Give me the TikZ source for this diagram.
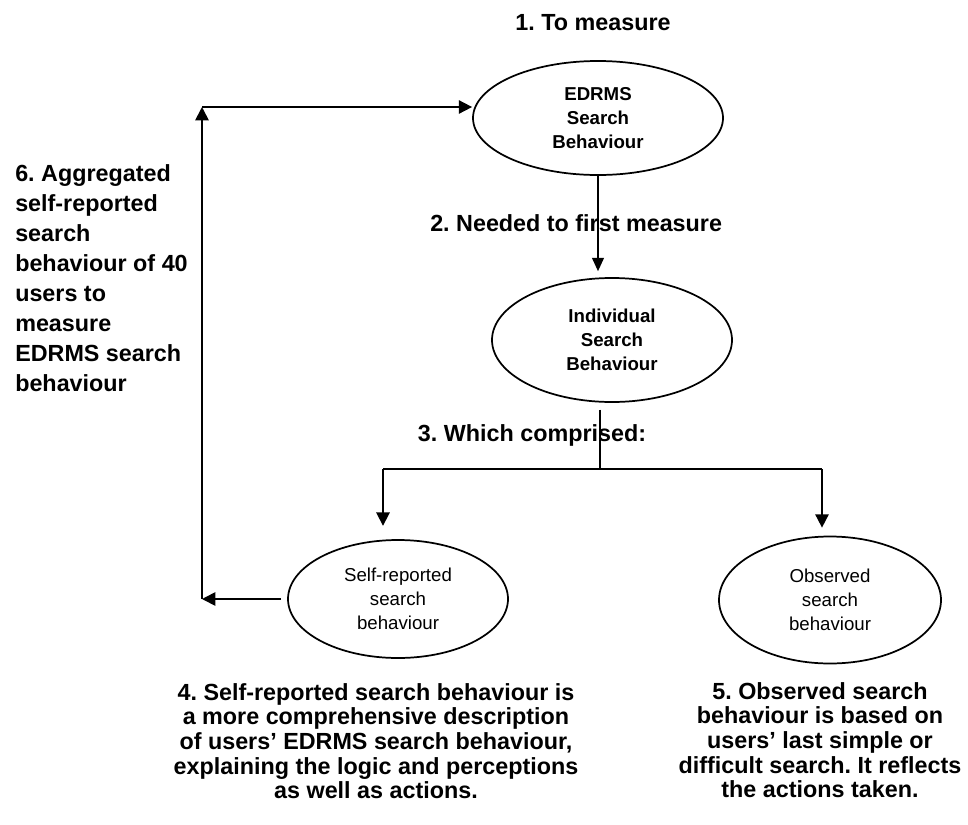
\documentclass[tikz,border=0pt]{standalone}
\usepackage{fontspec}
\setmainfont{Liberation Sans}
\usetikzlibrary{shapes, arrows.meta, positioning, calc}
\frenchspacing

\begin{document}
\begin{tikzpicture}[x=0.75pt, y=-0.75pt,
    oval/.style={ellipse, draw, line width=1.3pt, inner sep=0pt, align=center, font=\fontsize{14}{18}\selectfont},
    boldoval/.style={oval, font=\bfseries\fontsize{14}{18}\selectfont},
    lbl/.style={inner sep=0pt, font=\bfseries\fontsize{17.5}{18.5}\selectfont},
    arr/.style={line width=1.3pt, -{Triangle[length=10pt, width=10pt]}},
    thinarr/.style={line width=0.9pt, -{Triangle[length=10pt, width=9pt]}}]
    \useasboundingbox (0,0) rectangle (968,825);

    % Ovals
    \node[boldoval, minimum width=187.5pt, minimum height=85.5pt] (edrms) at (598,118) {EDRMS\\Search\\Behaviour};
    \node[boldoval, minimum width=180pt, minimum height=93pt] (indiv) at (612,340) {Individual\\Search\\Behaviour};
    \node[oval, minimum width=165pt, minimum height=88.5pt] (selfrep) at (398,599) {Self-reported\\search\\behaviour};
    \node[oval, minimum width=166.5pt, minimum height=95.25pt] (observ) at (830,600) {Observed\\search\\behaviour};

    % Corner points
    \coordinate (split) at (600,469);
    \coordinate (lbranch) at (383,469);
    \coordinate (rbranch) at (822,469);
    \coordinate (fbcorner) at (202,107);

    % Arrows down
    \draw[thinarr, shorten >=4.5pt] (edrms.south) -- (edrms.south |- indiv.north);
    \draw[line width=0.9pt, shorten <=5pt] (split |- indiv.south) -- (split);
    \draw[line width=1.3pt] (lbranch) -- (rbranch);
    \draw[arr, shorten >=10pt] (lbranch) -- (lbranch |- selfrep.north);
    \draw[arr, shorten >=6pt] (rbranch) -- (rbranch |- observ.north);

    % Feedback loop
    \draw[arr, shorten <=4.5pt] (selfrep.west) -- (fbcorner |- selfrep.west);
    \draw[arr] (fbcorner |- selfrep.west) -- (fbcorner);
    \draw[arr] (fbcorner) -- (fbcorner -| edrms.west);

    % Step labels
    \node[lbl] (t1) at (593,23) {1. To measure};
    \node[lbl, anchor=west] (t2) at (430,223) {2. Needed to first measure};
    \node[lbl] (t3) at (532,435) {3. Which comprised:};
    \node[lbl, align=center] (t4) at (376,741) {4. Self-reported search behaviour is\\a more comprehensive description\\of users’ EDRMS search behaviour,\\explaining the logic and perceptions\\as well as actions.};
    \node[lbl, align=center] (t5) at (820,740) {5. Observed search\\behaviour is based on\\users’ last simple or\\difficult search. It reflects\\the actions taken.};
    \node[lbl, align=left, anchor=west, font=\bfseries\fontsize{17.5}{22.5}\selectfont] (t6) at (15,278) {6. Aggregated\\self-reported\\search\\behaviour of 40\\users to\\measure\\EDRMS search\\behaviour};
\end{tikzpicture}
\end{document}
